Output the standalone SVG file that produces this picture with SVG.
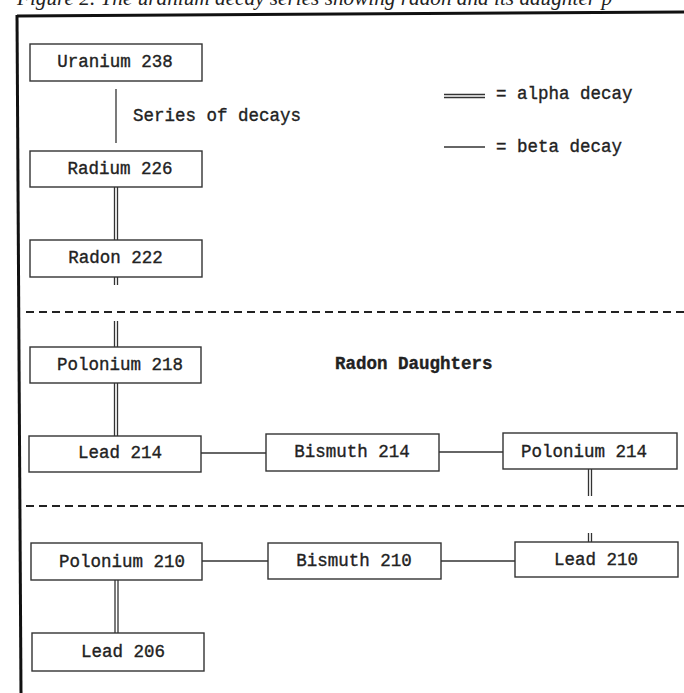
<svg xmlns="http://www.w3.org/2000/svg" width="684" height="693" viewBox="0 0 684 693">
<style>
.box{fill:#fff;stroke:#333;stroke-width:1.4}
.t{font-family:"Liberation Mono","Courier New",monospace;font-size:17.5px;fill:#222;stroke:#222;stroke-width:0.35;text-anchor:middle}
.tl{font-family:"Liberation Mono","Courier New",monospace;font-size:17.5px;fill:#222;stroke:#222;stroke-width:0.35}
.ln{stroke:#333;stroke-width:1.3;fill:none}
.dash{stroke:#222;stroke-width:2;stroke-dasharray:8 5;fill:none}
.frame{stroke:#111;stroke-width:3;fill:none}
</style>
<rect width="684" height="693" fill="#fff"/>
<text x="17" y="5" font-family="'Liberation Serif','Times New Roman',serif" font-style="italic" font-size="20" fill="#222" textLength="595" lengthAdjust="spacingAndGlyphs">Figure 2. The uranium decay series showing radon and its daughter p</text>
<g id="frame">
<path class="frame" d="M17 16 L684 12"/>
<path class="frame" d="M17 15 L21 693"/>
</g>
<g id="legend">
<path class="ln" d="M444 94.5 H485 M444 97.5 H485"/>
<text class="tl" x="496" y="99">= alpha decay</text>
<path class="ln" d="M444 147 H485"/>
<text class="tl" x="496" y="152">= beta decay</text>
</g>
<g id="separators">
<path class="dash" d="M26 312 H684"/>
<path class="dash" d="M26 506 H684"/>
</g>
<g id="connectors">
<path class="ln" d="M116 89 V143"/>
<text class="tl" x="133" y="121">Series of decays</text>
<path class="ln" d="M114.5 187 V240 M117.5 187 V240"/>
<path class="ln" d="M114.5 277 V285 M117.5 277 V285"/>
<path class="ln" d="M114.5 321 V347 M117.5 321 V347"/>
<path class="ln" d="M114.5 383 V436 M117.5 383 V436"/>
<path class="ln" d="M201 453 H266"/>
<path class="ln" d="M439 452 H503"/>
<path class="ln" d="M588.5 469 V496 M591.5 469 V496"/>
<path class="ln" d="M588.5 533 V542 M591.5 533 V542"/>
<path class="ln" d="M202 561 H268"/>
<path class="ln" d="M441 561 H515"/>
<path class="ln" d="M115 580 V633 M118 580 V633"/>
</g>
<g id="uranium238"><rect class="box" x="30" y="44" width="172" height="37"/><text class="t" x="115" y="67">Uranium 238</text></g>
<g id="radium226"><rect class="box" x="30" y="151" width="172" height="36"/><text class="t" x="120" y="174">Radium 226</text></g>
<g id="radon222"><rect class="box" x="30" y="240" width="172" height="37"/><text class="t" x="115.5" y="263">Radon 222</text></g>
<g id="polonium218"><rect class="box" x="30" y="347" width="171" height="36"/><text class="t" x="120" y="370">Polonium 218</text></g>
<g id="radonDaughters"><text class="tl" x="335" y="369" font-weight="bold">Radon Daughters</text></g>
<g id="lead214"><rect class="box" x="29" y="436" width="172" height="36"/><text class="t" x="120" y="458">Lead 214</text></g>
<g id="bismuth214"><rect class="box" x="266" y="434" width="173" height="37"/><text class="t" x="352" y="457">Bismuth 214</text></g>
<g id="polonium214"><rect class="box" x="503" y="433" width="174" height="36"/><text class="t" x="584" y="457">Polonium 214</text></g>
<g id="polonium210"><rect class="box" x="31" y="543" width="171" height="37"/><text class="t" x="122" y="567">Polonium 210</text></g>
<g id="bismuth210"><rect class="box" x="268" y="543" width="173" height="36"/><text class="t" x="354" y="566">Bismuth 210</text></g>
<g id="lead210"><rect class="box" x="515" y="542" width="163" height="35"/><text class="t" x="596" y="565">Lead 210</text></g>
<g id="lead206"><rect class="box" x="32" y="633" width="172" height="38"/><text class="t" x="123" y="657">Lead 206</text></g>
</svg>
